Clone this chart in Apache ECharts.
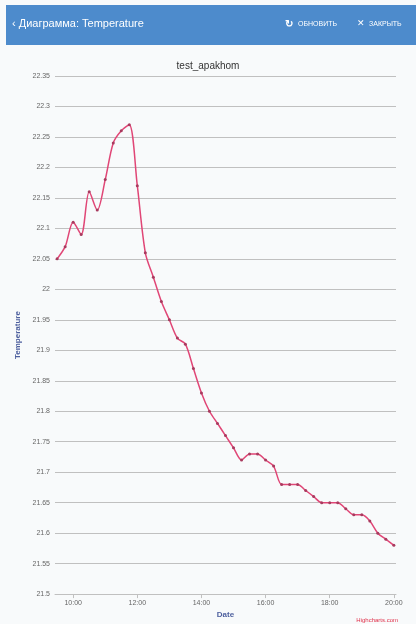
<!DOCTYPE html>
<html>
<head>
<meta charset="utf-8">
<style>
html,body{margin:0;padding:0;background:#f8fafb;}
#chart{width:416px;height:624px;}
</style>
<script src="https://cdn.jsdelivr.net/npm/echarts@6/dist/echarts.min.js"></script>
</head>
<body>
<div id="chart"></div>
<script>
const titleText = 'test_apakhom';
const headerTitle = '\u2039 Диаграмма: Temperature';
const headerRefresh = 'ОБНОВИТЬ';
const headerClose = 'ЗАКРЫТЬ';
const xName = 'Date';
const yName = 'Temperature';
const credit = 'Highcharts.com';

const times = ['09:30','09:45','10:00','10:15','10:30','10:45','11:00','11:15','11:30','11:45',
  '12:00','12:15','12:30','12:45','13:00','13:15','13:30','13:45','14:00','14:15',
  '14:30','14:45','15:00','15:15','15:30','15:45','16:00','16:15','16:30','16:45',
  '17:00','17:15','17:30','17:45','18:00','18:15','18:30','18:45','19:00','19:15',
  '19:30','19:45','20:00'];
const temps = [22.05,22.07,22.11,22.09,22.16,22.13,22.18,22.24,22.26,22.27,
  22.17,22.06,22.02,21.98,21.95,21.92,21.91,21.87,21.83,21.80,
  21.78,21.76,21.74,21.72,21.73,21.73,21.72,21.71,21.68,21.68,
  21.68,21.67,21.66,21.65,21.65,21.65,21.64,21.63,21.63,21.62,
  21.60,21.59,21.58];
const xTickLabels = ['10:00','12:00','14:00','16:00','18:00','20:00'];
const yMin = 21.5, yMax = 22.35, yStep = 0.05;
const xMin = '09:26', xMax = '20:04';

function toHours(t){const p=t.split(':');return +p[0]+(+p[1])/60;}
function fmt(h){const hh=Math.floor(h+1e-6);const mm=Math.round((h-hh)*60);return String(hh).padStart(2,'0')+':'+String(mm).padStart(2,'0');}

const data = times.map((t,i)=>[toHours(t), temps[i]]);
const chart = echarts.init(document.getElementById('chart'), null, {renderer:'canvas'});
const font = 'Liberation Sans, Arial, sans-serif';
chart.setOption({
  animation:false,
  backgroundColor:'#f8fafb',
  textStyle:{fontFamily:font},
  title:{text:titleText,left:'center',top:56,textStyle:{fontSize:10,fontWeight:'normal',color:'#333',fontFamily:font}},
  graphic:[
    {type:'rect',shape:{x:6,y:5,width:410,height:40},style:{fill:'#4d8bcc'}},
    {type:'text',left:12,top:18,style:{text:headerTitle,fill:'#fff',font:'11px '+font}},
    {type:'text',left:285,top:19,style:{text:'\u21bb',fill:'#fff',font:'bold 10px '+font}},
    {type:'text',left:298,top:21,style:{text:headerRefresh,fill:'#fff',font:'7px '+font}},
    {type:'text',left:357,top:19,style:{text:'\u2715',fill:'#fff',font:'9px '+font}},
    {type:'text',left:369,top:21,style:{text:headerClose,fill:'#fff',font:'7px '+font}},
    {type:'text',right:18,bottom:1,style:{text:credit,fill:'#e0304a',font:'6px '+font}}
  ],
  grid:{left:55,right:20,top:76,bottom:28,containLabel:false},
  xAxis:{
    type:'value',
    min:toHours(xMin),max:toHours(xMax),
    name:xName,nameLocation:'middle',nameGap:15,
    nameTextStyle:{color:'#4d5f9e',fontSize:8,fontWeight:'bold'},
    splitLine:{show:false},
    axisLine:{show:true,lineStyle:{color:'#c0c0c0'}},
    axisTick:{show:true,length:4,customValues:xTickLabels.map(toHours),lineStyle:{color:'#c0c0c0'}},
    axisLabel:{customValues:xTickLabels.map(toHours),formatter:v=>fmt(v),fontSize:7,color:'#666',margin:5}
  },
  yAxis:{
    type:'value',min:yMin,max:yMax,interval:yStep,
    name:yName,nameLocation:'middle',nameGap:29,
    nameTextStyle:{color:'#4d5f9e',fontSize:8,fontWeight:'bold'},
    axisLine:{show:false},axisTick:{show:false},
    splitLine:{lineStyle:{color:'#c0c0c0',width:1}},
    axisLabel:{fontSize:7,color:'#666',margin:5}
  },
  series:[{
    type:'line',data:data,smooth:0.3,
    lineStyle:{color:'#e04676',width:1.5},
    itemStyle:{color:'#a83a5e'},
    symbol:'circle',symbolSize:3,showSymbol:true
  }]
});
</script>
</body>
</html>
